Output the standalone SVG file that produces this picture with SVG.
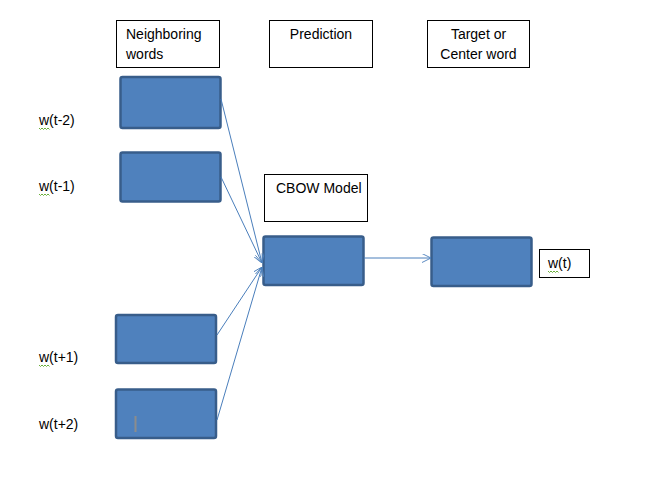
<svg xmlns="http://www.w3.org/2000/svg" width="662" height="491" viewBox="0 0 662 491">
<defs>
<style>
.lbl{fill:#fff;stroke:#000;stroke-width:1}
.blue{fill:#4F81BD;stroke:#385D8A;stroke-width:2.5}
.t{font-family:"Liberation Sans",Arial,sans-serif;font-size:14px;fill:#000}
.c{stroke:#4A7EBB;stroke-width:1;fill:none}
.sq{stroke:#6BAF3C;stroke-width:1;fill:none}
</style>
<marker id="ah" viewBox="0 0 10 10" refX="10" refY="5" markerWidth="9" markerHeight="9" orient="auto" markerUnits="userSpaceOnUse">
<path d="M0,0 L10,5 L0,10" fill="none" stroke="#4A7EBB" stroke-width="1"/>
</marker>
</defs>
<rect width="662" height="491" fill="#fff"/>

<g id="hdr-neighboring">
<rect class="lbl" x="116.5" y="20.5" width="103" height="47"/>
<text class="t" x="126" y="39">Neighboring</text>
<text class="t" x="126" y="59">words</text>
</g>
<g id="hdr-prediction">
<rect class="lbl" x="269.5" y="20.5" width="103" height="47"/>
<text class="t" x="321" y="39" text-anchor="middle">Prediction</text>
</g>
<g id="hdr-target">
<rect class="lbl" x="427.5" y="20.5" width="102" height="47"/>
<text class="t" x="478.5" y="39" text-anchor="middle">Target or</text>
<text class="t" x="478.5" y="59" text-anchor="middle">Center word</text>
</g>

<g id="lbl-wt-2">
<text class="t" x="39" y="125">w(t-2)</text>
<path class="sq" d="M39,128 l1.5,1.5 l1.5,-1.5 l1.5,1.5 l1.5,-1.5 l1.5,1.5 l1.5,-1.5 l1.5,1.5"/>
</g>
<g id="lbl-wt-1">
<text class="t" x="39" y="191">w(t-1)</text>
<path class="sq" d="M39,194 l1.5,1.5 l1.5,-1.5 l1.5,1.5 l1.5,-1.5 l1.5,1.5 l1.5,-1.5 l1.5,1.5"/>
</g>
<g id="lbl-wt1">
<text class="t" x="39" y="362">w(t+1)</text>
<path class="sq" d="M39,365 l1.5,1.5 l1.5,-1.5 l1.5,1.5 l1.5,-1.5 l1.5,1.5 l1.5,-1.5 l1.5,1.5"/>
</g>
<g id="lbl-wt2">
<text class="t" x="39" y="429">w(t+2)</text>
</g>

<g id="in1"><rect class="blue" x="120.5" y="77" width="100" height="51" rx="2"/></g>
<g id="in2"><rect class="blue" x="120.5" y="152.5" width="100" height="49" rx="2"/></g>
<g id="in3"><rect class="blue" x="116" y="315" width="100" height="48" rx="2"/></g>
<g id="in4">
<rect class="blue" x="116" y="389.5" width="100" height="48.5" rx="2"/>
<line x1="135.5" y1="416" x2="135.5" y2="432" stroke="#8C8C8C" stroke-width="2"/>
</g>

<g id="cbow-label">
<rect class="lbl" x="264.5" y="174.5" width="103" height="47"/>
<text class="t" x="276" y="193">CBOW Model</text>
</g>
<g id="cbow"><rect class="blue" x="263.5" y="236.5" width="100" height="48.5" rx="2"/></g>
<g id="target"><rect class="blue" x="431.5" y="237.5" width="100" height="48.5" rx="2"/></g>
<g id="wt">
<rect class="lbl" x="539.5" y="249.5" width="50" height="28"/>
<text class="t" x="548" y="268">w(t)</text>
<path class="sq" d="M548,271 l1.5,1.5 l1.5,-1.5 l1.5,1.5 l1.5,-1.5 l1.5,1.5 l1.5,-1.5 l1.5,1.5"/>
</g>

<g id="connectors">
<line class="c" x1="221" y1="99" x2="262" y2="263" marker-end="url(#ah)"/>
<line class="c" x1="221" y1="177" x2="262" y2="263" marker-end="url(#ah)"/>
<line class="c" x1="217" y1="335" x2="262" y2="267" marker-end="url(#ah)"/>
<line class="c" x1="217" y1="420" x2="262" y2="267" marker-end="url(#ah)"/>
<line class="c" x1="364" y1="258" x2="431" y2="258" marker-end="url(#ah)"/>
</g>
</svg>
